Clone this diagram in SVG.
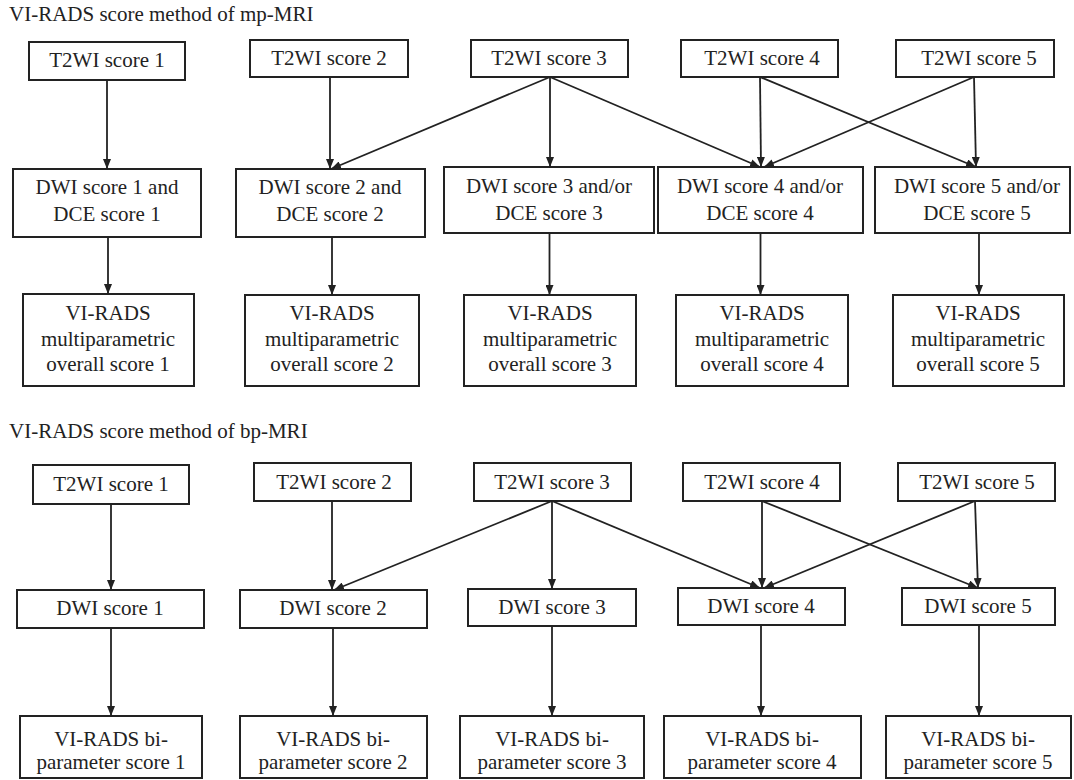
<svg xmlns="http://www.w3.org/2000/svg" width="1074" height="780" viewBox="0 0 1074 780">
<defs>
<marker id="ah" markerUnits="userSpaceOnUse" markerWidth="10" markerHeight="8" refX="10" refY="4" orient="auto">
<path d="M0,0 L10,4 L0,8 z" fill="#222"/>
</marker>
</defs>
<rect x="0" y="0" width="1074" height="780" fill="#fff"/>
<text style="font-family:'Liberation Serif',serif;font-size:21px" fill="#222" x="9" y="21">VI-RADS score method of mp-MRI</text>
<text style="font-family:'Liberation Serif',serif;font-size:21px" fill="#222" x="9" y="438">VI-RADS score method of bp-MRI</text>

<g id="nodes" fill="#fff" stroke="#222" stroke-width="2">
<g id="mp-t1"><rect x="29" y="42" width="156" height="38"/></g>
<g id="mp-t2"><rect x="250" y="40" width="158" height="37"/></g>
<g id="mp-t3"><rect x="471" y="40" width="157" height="37"/></g>
<g id="mp-t4"><rect x="681" y="40" width="157" height="37"/></g>
<g id="mp-t5"><rect x="896" y="40" width="158" height="37"/></g>
<g id="mp-d1"><rect x="13" y="169" width="188" height="68"/></g>
<g id="mp-d2"><rect x="236" y="169" width="189" height="68"/></g>
<g id="mp-d3"><rect x="444" y="167" width="210" height="66"/></g>
<g id="mp-d4"><rect x="658" y="167" width="205" height="66"/></g>
<g id="mp-d5"><rect x="875" y="167" width="195" height="66"/></g>
<g id="mp-o1"><rect x="23" y="294" width="171" height="92"/></g>
<g id="mp-o2"><rect x="245" y="295" width="174" height="91"/></g>
<g id="mp-o3"><rect x="464" y="295" width="172" height="91"/></g>
<g id="mp-o4"><rect x="676" y="295" width="172" height="91"/></g>
<g id="mp-o5"><rect x="893" y="295" width="171" height="91"/></g>
<g id="bp-t1"><rect x="33" y="465" width="156" height="39"/></g>
<g id="bp-t2"><rect x="254" y="463" width="157" height="38"/></g>
<g id="bp-t3"><rect x="474" y="463" width="157" height="38"/></g>
<g id="bp-t4"><rect x="683" y="463" width="157" height="38"/></g>
<g id="bp-t5"><rect x="898" y="463" width="157" height="38"/></g>
<g id="bp-d1"><rect x="17" y="590" width="187" height="38"/></g>
<g id="bp-d2"><rect x="240" y="590" width="187" height="38"/></g>
<g id="bp-d3"><rect x="468" y="589" width="168" height="37"/></g>
<g id="bp-d4"><rect x="678" y="588" width="167" height="37"/></g>
<g id="bp-d5"><rect x="902" y="588" width="153" height="37"/></g>
<g id="bp-b1"><rect x="20" y="716" width="182" height="62"/></g>
<g id="bp-b2"><rect x="240" y="716" width="187" height="62"/></g>
<g id="bp-b3"><rect x="460" y="716" width="184" height="62"/></g>
<g id="bp-b4"><rect x="664" y="716" width="197" height="62"/></g>
<g id="bp-b5"><rect x="886" y="716" width="185" height="62"/></g>
</g>

<g id="labels" text-anchor="middle" fill="#222">
<text style="font-family:'Liberation Serif',serif;font-size:21px" x="107" y="67">T2WI score 1</text>
<text style="font-family:'Liberation Serif',serif;font-size:21px" x="329" y="65">T2WI score 2</text>
<text style="font-family:'Liberation Serif',serif;font-size:21px" x="549" y="65">T2WI score 3</text>
<text style="font-family:'Liberation Serif',serif;font-size:21px" x="762" y="65">T2WI score 4</text>
<text style="font-family:'Liberation Serif',serif;font-size:21px" x="979" y="65">T2WI score 5</text>
<text style="font-family:'Liberation Serif',serif;font-size:21px" x="107" y="194">DWI score 1 and</text>
<text style="font-family:'Liberation Serif',serif;font-size:21px" x="107" y="221">DCE score 1</text>
<text style="font-family:'Liberation Serif',serif;font-size:21px" x="330" y="194">DWI score 2 and</text>
<text style="font-family:'Liberation Serif',serif;font-size:21px" x="330" y="221">DCE score 2</text>
<text style="font-family:'Liberation Serif',serif;font-size:21px" x="549" y="193">DWI score 3 and/or</text>
<text style="font-family:'Liberation Serif',serif;font-size:21px" x="549" y="220">DCE score 3</text>
<text style="font-family:'Liberation Serif',serif;font-size:21px" x="760" y="193">DWI score 4 and/or</text>
<text style="font-family:'Liberation Serif',serif;font-size:21px" x="760" y="220">DCE score 4</text>
<text style="font-family:'Liberation Serif',serif;font-size:21px" x="977" y="193">DWI score 5 and/or</text>
<text style="font-family:'Liberation Serif',serif;font-size:21px" x="977" y="220">DCE score 5</text>
<text style="font-family:'Liberation Serif',serif;font-size:21px" x="108" y="320">VI-RADS</text>
<text style="font-family:'Liberation Serif',serif;font-size:21px" x="108" y="346">multiparametric</text>
<text style="font-family:'Liberation Serif',serif;font-size:21px" x="108" y="371">overall score 1</text>
<text style="font-family:'Liberation Serif',serif;font-size:21px" x="332" y="320">VI-RADS</text>
<text style="font-family:'Liberation Serif',serif;font-size:21px" x="332" y="346">multiparametric</text>
<text style="font-family:'Liberation Serif',serif;font-size:21px" x="332" y="371">overall score 2</text>
<text style="font-family:'Liberation Serif',serif;font-size:21px" x="550" y="320">VI-RADS</text>
<text style="font-family:'Liberation Serif',serif;font-size:21px" x="550" y="346">multiparametric</text>
<text style="font-family:'Liberation Serif',serif;font-size:21px" x="550" y="371">overall score 3</text>
<text style="font-family:'Liberation Serif',serif;font-size:21px" x="762" y="320">VI-RADS</text>
<text style="font-family:'Liberation Serif',serif;font-size:21px" x="762" y="346">multiparametric</text>
<text style="font-family:'Liberation Serif',serif;font-size:21px" x="762" y="371">overall score 4</text>
<text style="font-family:'Liberation Serif',serif;font-size:21px" x="978" y="320">VI-RADS</text>
<text style="font-family:'Liberation Serif',serif;font-size:21px" x="978" y="346">multiparametric</text>
<text style="font-family:'Liberation Serif',serif;font-size:21px" x="978" y="371">overall score 5</text>
<text style="font-family:'Liberation Serif',serif;font-size:21px" x="111" y="491">T2WI score 1</text>
<text style="font-family:'Liberation Serif',serif;font-size:21px" x="334" y="489">T2WI score 2</text>
<text style="font-family:'Liberation Serif',serif;font-size:21px" x="552" y="489">T2WI score 3</text>
<text style="font-family:'Liberation Serif',serif;font-size:21px" x="762" y="489">T2WI score 4</text>
<text style="font-family:'Liberation Serif',serif;font-size:21px" x="977" y="489">T2WI score 5</text>
<text style="font-family:'Liberation Serif',serif;font-size:21px" x="110" y="615">DWI score 1</text>
<text style="font-family:'Liberation Serif',serif;font-size:21px" x="333" y="615">DWI score 2</text>
<text style="font-family:'Liberation Serif',serif;font-size:21px" x="552" y="614">DWI score 3</text>
<text style="font-family:'Liberation Serif',serif;font-size:21px" x="761" y="613">DWI score 4</text>
<text style="font-family:'Liberation Serif',serif;font-size:21px" x="978" y="613">DWI score 5</text>
<text style="font-family:'Liberation Serif',serif;font-size:21px" x="111" y="746">VI-RADS bi-</text>
<text style="font-family:'Liberation Serif',serif;font-size:21px" x="111" y="769">parameter score 1</text>
<text style="font-family:'Liberation Serif',serif;font-size:21px" x="333" y="746">VI-RADS bi-</text>
<text style="font-family:'Liberation Serif',serif;font-size:21px" x="333" y="769">parameter score 2</text>
<text style="font-family:'Liberation Serif',serif;font-size:21px" x="552" y="746">VI-RADS bi-</text>
<text style="font-family:'Liberation Serif',serif;font-size:21px" x="552" y="769">parameter score 3</text>
<text style="font-family:'Liberation Serif',serif;font-size:21px" x="762" y="746">VI-RADS bi-</text>
<text style="font-family:'Liberation Serif',serif;font-size:21px" x="762" y="769">parameter score 4</text>
<text style="font-family:'Liberation Serif',serif;font-size:21px" x="978" y="746">VI-RADS bi-</text>
<text style="font-family:'Liberation Serif',serif;font-size:21px" x="978" y="769">parameter score 5</text>
</g>

<g id="connectors" stroke="#222" stroke-width="1.8" fill="none">
<line x1="107" y1="80" x2="107" y2="169" marker-end="url(#ah)"/>
<line x1="330" y1="77" x2="330" y2="169" marker-end="url(#ah)"/>
<line x1="550" y1="77" x2="331" y2="169" marker-end="url(#ah)"/>
<line x1="550" y1="77" x2="550" y2="167" marker-end="url(#ah)"/>
<line x1="550" y1="77" x2="760" y2="167" marker-end="url(#ah)"/>
<line x1="760" y1="77" x2="761" y2="167" marker-end="url(#ah)"/>
<line x1="760" y1="77" x2="976" y2="167" marker-end="url(#ah)"/>
<line x1="974" y1="77" x2="976" y2="167" marker-end="url(#ah)"/>
<line x1="974" y1="77" x2="764" y2="167" marker-end="url(#ah)"/>
<line x1="108" y1="237" x2="108" y2="294" marker-end="url(#ah)"/>
<line x1="332" y1="237" x2="332" y2="295" marker-end="url(#ah)"/>
<line x1="549.5" y1="233" x2="549.5" y2="295" marker-end="url(#ah)"/>
<line x1="760.5" y1="233" x2="760.5" y2="295" marker-end="url(#ah)"/>
<line x1="979" y1="233" x2="979" y2="295" marker-end="url(#ah)"/>
<line x1="111" y1="504" x2="111" y2="590" marker-end="url(#ah)"/>
<line x1="332" y1="501" x2="332" y2="590" marker-end="url(#ah)"/>
<line x1="552" y1="501" x2="334" y2="590" marker-end="url(#ah)"/>
<line x1="552" y1="501" x2="552" y2="589" marker-end="url(#ah)"/>
<line x1="552" y1="501" x2="760" y2="588" marker-end="url(#ah)"/>
<line x1="762" y1="501" x2="762" y2="588" marker-end="url(#ah)"/>
<line x1="762" y1="501" x2="978" y2="588" marker-end="url(#ah)"/>
<line x1="975" y1="501" x2="978" y2="588" marker-end="url(#ah)"/>
<line x1="975" y1="501" x2="764" y2="588" marker-end="url(#ah)"/>
<line x1="111" y1="628" x2="111" y2="716" marker-end="url(#ah)"/>
<line x1="333" y1="628" x2="333" y2="716" marker-end="url(#ah)"/>
<line x1="552" y1="626" x2="552" y2="716" marker-end="url(#ah)"/>
<line x1="761" y1="625" x2="761" y2="716" marker-end="url(#ah)"/>
<line x1="979" y1="625" x2="979" y2="716" marker-end="url(#ah)"/>
</g>
</svg>
